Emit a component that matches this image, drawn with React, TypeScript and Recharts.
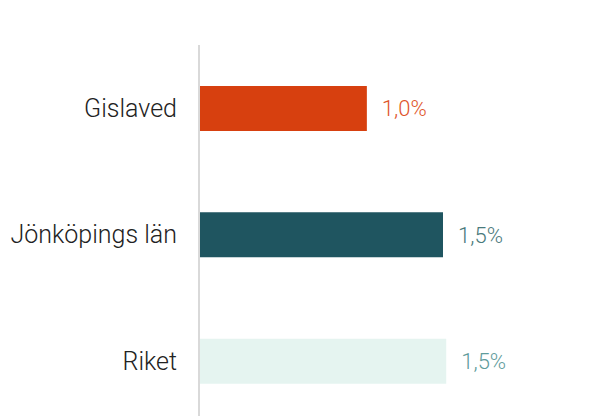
import React from "react";
import { BarChart, Bar, XAxis, YAxis, Cell, LabelList } from "recharts";

const categories = ["Gislaved", "Jönköpings län", "Riket"];
const values = [1.03, 1.5, 1.52];

const BAR_COLORS = ["#D7400F", "#1F5560", "#E5F4F0"];
const LABEL_COLORS = ["#E0552A", "#4A7A7C", "#5F9C9C"];
const FONT = "Roboto, 'Open Sans', sans-serif";

const data = categories.map((name, i) => ({ name, value: values[i] }));

const fmt = (v: number) => v.toFixed(1).replace(".", ",") + "%";

const ValueLabel = (props: any) => {
  const { x, y, width, height, value, index } = props;
  return (
    <text
      x={Number(x) + Number(width) + 15}
      y={Number(y) + Number(height) / 2}
      dy="0.355em"
      fill={LABEL_COLORS[index ?? 0]}
      fontFamily={FONT}
      fontWeight={300}
      fontSize={22}
      textAnchor="start"
    >
      {fmt(Number(value))}
    </text>
  );
};

export default function App() {
  return (
    <div
      style={{
        position: "fixed",
        top: 0,
        left: 0,
        width: 597,
        height: 416,
        overflow: "hidden",
        background: "#fff",
      }}
    >
      <BarChart
        width={597}
        height={440}
        data={data}
        layout="vertical"
        margin={{ top: 45, right: 73, bottom: 16, left: 0 }}
      >
        <XAxis type="number" domain={[0, 2]} hide />
        <YAxis
          type="category"
          dataKey="name"
          width={200}
          tickLine={false}
          tickSize={0}
          tickMargin={23}
          axisLine={{ stroke: "#D9D9D9", strokeWidth: 2, transform: "translate(-1,0)" } as any}
          tick={{ fill: "#222222", fontSize: 25, fontFamily: FONT, fontWeight: 300 }}
        />
        <Bar dataKey="value" barSize={45} isAnimationActive={false}>
          {data.map((_, i) => (
            <Cell key={i} fill={BAR_COLORS[i]} />
          ))}
          <LabelList dataKey="value" content={ValueLabel} />
        </Bar>
      </BarChart>
    </div>
  );
}
